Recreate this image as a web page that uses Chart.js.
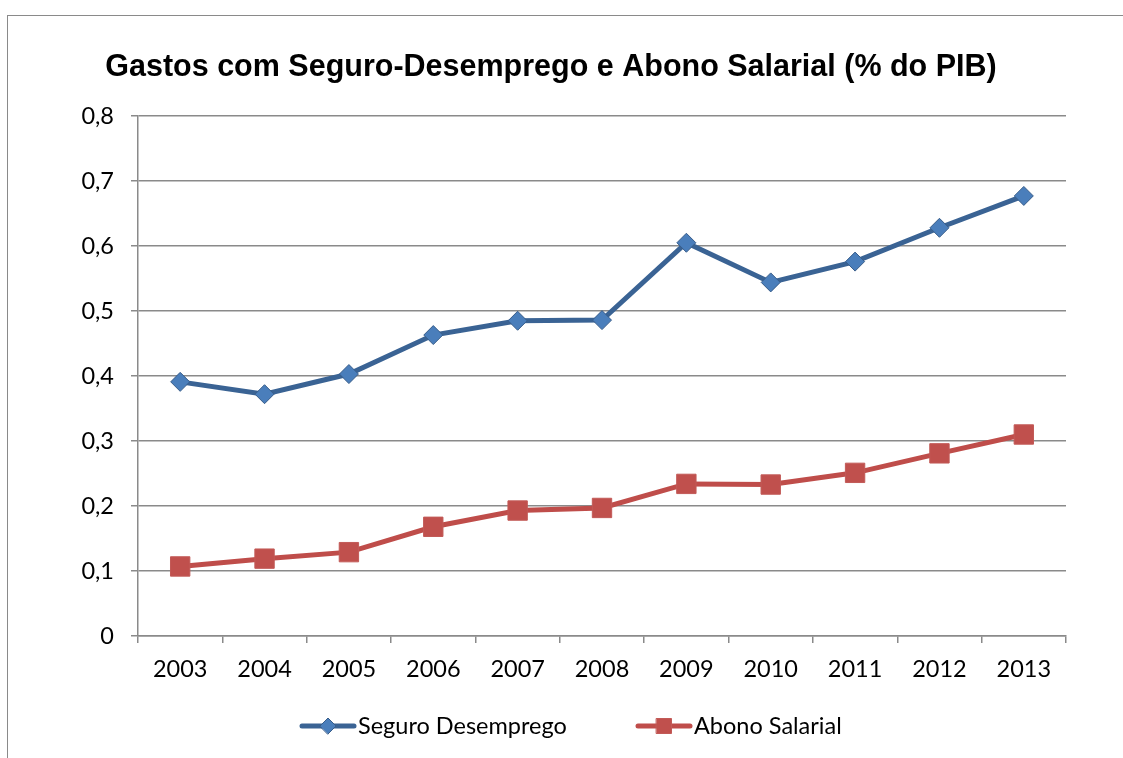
<!DOCTYPE html>
<html>
<head>
<meta charset="utf-8">
<script src="https://cdn.jsdelivr.net/npm/chart.js"></script>
<style>
  html, body { margin: 0; padding: 0; background: #fff; }
  #wrap { width: 1123px; height: 758px; }
</style>
</head>
<body>
<div id="wrap"><canvas id="chart" width="1123" height="758"></canvas></div>
<script>
const years = ["2003", "2004", "2005", "2006", "2007", "2008", "2009", "2010", "2011", "2012", "2013"];
const seguroDesemprego = [0.391, 0.372, 0.403, 0.463, 0.485, 0.486, 0.605, 0.544, 0.576, 0.628, 0.677];
const abonoSalarial = [0.107, 0.119, 0.129, 0.168, 0.193, 0.197, 0.234, 0.233, 0.251, 0.281, 0.310];
const yTicks = [0, 0.1, 0.2, 0.3, 0.4, 0.5, 0.6, 0.7, 0.8];

const titleText = "Gastos com Seguro-Desemprego e Abono Salarial (% do PIB)";
const labelFont = "Lato";
const gridGray = "#8a8a8a";

// white page, the thin frame round the chart, and the title
const framePlugin = {
  id: 'frame',
  beforeDraw(chart) {
    const ctx = chart.ctx;
    ctx.save();
    ctx.fillStyle = "#fff";
    ctx.fillRect(0, 0, chart.width, chart.height);
    ctx.strokeStyle = gridGray;
    ctx.lineWidth = 1;
    ctx.strokeRect(7.5, 15.5, chart.width + 10, chart.height + 10);
    ctx.fillStyle = "#000";
    ctx.font = "bold 30.5px 'Liberation Sans'";
    ctx.textAlign = 'center';
    ctx.textBaseline = 'middle';
    ctx.fillText(titleText, 551, 68);
    ctx.restore();
  }
};

// legend drawn as line + marker, like the Excel one
const legendStarts = [300, 636];
const lineLegend = {
  id: 'lineLegend',
  afterDraw(chart) {
    const ctx = chart.ctx;
    const y = 726;
    ctx.save();
    ctx.font = `23.5px ${labelFont}`;
    ctx.textBaseline = 'middle';
    ctx.textAlign = 'left';
    chart.data.datasets.forEach((ds, i) => {
      const x = legendStarts[i];
      ctx.strokeStyle = ds.borderColor;
      ctx.lineWidth = 5;
      ctx.lineCap = 'round';
      ctx.beginPath();
      ctx.moveTo(x + 2, y);
      ctx.lineTo(x + 54, y);
      ctx.stroke();
      const cx = x + 28;
      ctx.fillStyle = ds.pointBackgroundColor;
      ctx.strokeStyle = ds.pointBorderColor;
      ctx.lineWidth = 1;
      ctx.beginPath();
      if (ds.pointStyle === 'rectRot') {
        ctx.moveTo(cx - 8, y); ctx.lineTo(cx, y - 8); ctx.lineTo(cx + 8, y); ctx.lineTo(cx, y + 8);
      } else {
        ctx.rect(cx - 7.5, y - 7.5, 15, 15);
      }
      ctx.closePath();
      ctx.fill();
      ctx.stroke();
      ctx.fillStyle = "#000";
      ctx.fillText(ds.label, x + 58, y);
    });
    ctx.restore();
  }
};

new Chart(document.getElementById("chart"), {
  type: 'line',
  data: {
    labels: years,
    datasets: [{
      label: 'Seguro Desemprego',
      data: seguroDesemprego,
      borderColor: '#3a6394',
      borderWidth: 5,
      pointStyle: 'rectRot',
      pointRadius: 9.5,
      pointBackgroundColor: '#4a7ebb',
      pointBorderColor: '#385d8a',
      pointBorderWidth: 1,
      tension: 0
    }, {
      label: 'Abono Salarial',
      data: abonoSalarial,
      borderColor: '#bf4d4a',
      borderWidth: 5,
      pointStyle: 'rect',
      pointRadius: 13.7,
      pointBackgroundColor: '#c0504d',
      pointBorderColor: '#c25a57',
      pointBorderWidth: 1,
      tension: 0
    }]
  },
  options: {
    responsive: false,
    animation: false,
    layout: { padding: { left: 0, right: 57, top: 116, bottom: 78 } },
    plugins: {
      legend: { display: false },
      tooltip: { enabled: false },
      title: { display: false }
    },
    scales: {
      x: {
        offset: true,
        grid: { offset: true, drawOnChartArea: false, drawTicks: true, tickLength: 7, color: gridGray, lineWidth: 1.5 },
        border: { color: gridGray, width: 1.5 },
        ticks: { color: '#000', padding: 12, maxRotation: 0, font: { family: labelFont, size: 23.5 } },
        afterFit(scale) { scale.height = 44; }
      },
      y: {
        min: 0,
        max: 0.8,
        afterBuildTicks(scale) { scale.ticks = yTicks.map(v => ({ value: v })); },
        grid: { color: gridGray, lineWidth: 1.5, tickLength: 7 },
        border: { color: gridGray, width: 1.5 },
        ticks: {
          color: '#000',
          padding: 17,
          font: { family: labelFont, size: 23.5 },
          callback: v => v === 0 ? '0' : v.toFixed(1).replace('.', ',')
        },
        afterFit(scale) { scale.width = 138; }
      }
    }
  },
  plugins: [framePlugin, lineLegend]
});
</script>
</body>
</html>
